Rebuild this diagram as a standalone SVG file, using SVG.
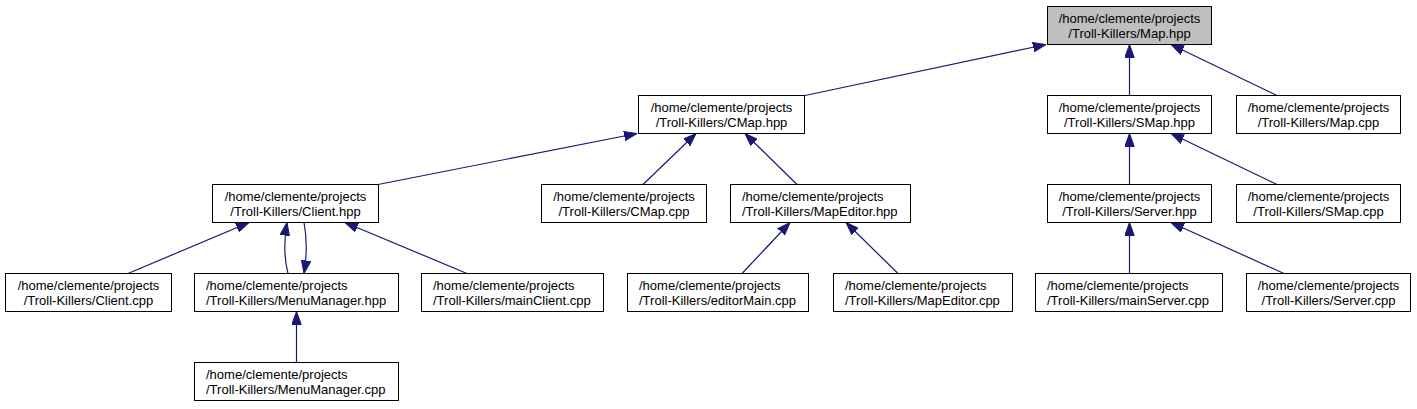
<svg xmlns="http://www.w3.org/2000/svg" width="1417" height="409" viewBox="0 0 1417 409">
<style>
.box{fill:#ffffff;stroke:#000000;stroke-width:1}
.root{fill:#bfbfbf}
.t{font-family:"Liberation Sans",Arial,Helvetica,sans-serif;font-size:13px;fill:#000000}
.c{text-anchor:middle}
.e{fill:none;stroke:#191970;stroke-width:1.2;marker-end:url(#ah)}
</style>
<defs>
<marker id="ah" viewBox="0 -5 13 10" refX="13" refY="0" markerWidth="13" markerHeight="10" markerUnits="userSpaceOnUse" orient="auto">
<path d="M0,-4.7 L13,0 L0,4.7 z" fill="#191970" stroke="#191970" stroke-width="1"/>
</marker>
</defs>
<rect width="1417" height="409" fill="#ffffff"/>
<g id="edges">
<path class="e" d="M805,95.5 L1046,44.5"/>
<path class="e" d="M1129.5,95.5 L1129.5,44.5"/>
<path class="e" d="M1277,95.5 L1171,44.5"/>
<path class="e" d="M378,184.5 L637,133.5"/>
<path class="e" d="M643,184.5 L696,133.5"/>
<path class="e" d="M797,184.5 L745,133.5"/>
<path class="e" d="M1129.5,184.5 L1129.5,133.5"/>
<path class="e" d="M1277,184.5 L1171,133.5"/>
<path class="e" d="M128,273.5 L249,222.5"/>
<path class="e" d="M288,273.5 C284,258 284,240 287,222.5"/>
<path class="e" d="M304,222.5 C307,238 307,255 304,273.5"/>
<path class="e" d="M467,273.5 L345,222.5"/>
<path class="e" d="M296.5,362.5 L296.5,311.5"/>
<path class="e" d="M742,273.5 L790,222.5"/>
<path class="e" d="M898,273.5 L846,222.5"/>
<path class="e" d="M1129.5,273.5 L1129.5,222.5"/>
<path class="e" d="M1284,273.5 L1171,222.5"/>
</g>
<g id="map_hpp"><rect class="box root" x="1047.5" y="6.5" width="164" height="38"/><text class="t c" x="1129.5" y="22.5">/home/clemente/projects</text><text class="t c" x="1129.5" y="37.5">/Troll-Killers/Map.hpp</text></g>
<g id="cmap_hpp"><rect class="box" x="638.5" y="95.5" width="166" height="38"/><text class="t c" x="721.5" y="111.5">/home/clemente/projects</text><text class="t c" x="721.5" y="126.5">/Troll-Killers/CMap.hpp</text></g>
<g id="smap_hpp"><rect class="box" x="1047.5" y="95.5" width="164" height="38"/><text class="t c" x="1129.5" y="111.5">/home/clemente/projects</text><text class="t c" x="1129.5" y="126.5">/Troll-Killers/SMap.hpp</text></g>
<g id="map_cpp"><rect class="box" x="1236.5" y="95.5" width="164" height="38"/><text class="t c" x="1318.5" y="111.5">/home/clemente/projects</text><text class="t c" x="1318.5" y="126.5">/Troll-Killers/Map.cpp</text></g>
<g id="client_hpp"><rect class="box" x="212.5" y="184.5" width="166" height="38"/><text class="t c" x="295.5" y="200.5">/home/clemente/projects</text><text class="t c" x="295.5" y="215.5">/Troll-Killers/Client.hpp</text></g>
<g id="cmap_cpp"><rect class="box" x="541.5" y="184.5" width="165" height="38"/><text class="t c" x="624" y="200.5">/home/clemente/projects</text><text class="t c" x="624" y="215.5">/Troll-Killers/CMap.cpp</text></g>
<g id="mapeditor_hpp"><rect class="box" x="730.5" y="184.5" width="180" height="38"/><text class="t" x="742" y="200.5">/home/clemente/projects</text><text class="t" x="742" y="215.5">/Troll-Killers/MapEditor.hpp</text></g>
<g id="server_hpp"><rect class="box" x="1047.5" y="184.5" width="164" height="38"/><text class="t c" x="1129.5" y="200.5">/home/clemente/projects</text><text class="t c" x="1129.5" y="215.5">/Troll-Killers/Server.hpp</text></g>
<g id="smap_cpp"><rect class="box" x="1236.5" y="184.5" width="164" height="38"/><text class="t c" x="1318.5" y="200.5">/home/clemente/projects</text><text class="t c" x="1318.5" y="215.5">/Troll-Killers/SMap.cpp</text></g>
<g id="client_cpp"><rect class="box" x="5.5" y="273.5" width="166" height="38"/><text class="t c" x="88.5" y="289.5">/home/clemente/projects</text><text class="t c" x="88.5" y="304.5">/Troll-Killers/Client.cpp</text></g>
<g id="menumanager_hpp"><rect class="box" x="194.5" y="273.5" width="204" height="38"/><text class="t" x="206" y="289.5">/home/clemente/projects</text><text class="t" x="206" y="304.5">/Troll-Killers/MenuManager.hpp</text></g>
<g id="mainclient_cpp"><rect class="box" x="421.5" y="273.5" width="182" height="38"/><text class="t" x="433" y="289.5">/home/clemente/projects</text><text class="t" x="433" y="304.5">/Troll-Killers/mainClient.cpp</text></g>
<g id="editormain_cpp"><rect class="box" x="627.5" y="273.5" width="181" height="38"/><text class="t" x="639" y="289.5">/home/clemente/projects</text><text class="t" x="639" y="304.5">/Troll-Killers/editorMain.cpp</text></g>
<g id="mapeditor_cpp"><rect class="box" x="833.5" y="273.5" width="179" height="38"/><text class="t" x="845" y="289.5">/home/clemente/projects</text><text class="t" x="845" y="304.5">/Troll-Killers/MapEditor.cpp</text></g>
<g id="mainserver_cpp"><rect class="box" x="1035.5" y="273.5" width="187" height="38"/><text class="t" x="1047" y="289.5">/home/clemente/projects</text><text class="t" x="1047" y="304.5">/Troll-Killers/mainServer.cpp</text></g>
<g id="server_cpp"><rect class="box" x="1246.5" y="273.5" width="164" height="38"/><text class="t c" x="1328.5" y="289.5">/home/clemente/projects</text><text class="t c" x="1328.5" y="304.5">/Troll-Killers/Server.cpp</text></g>
<g id="menumanager_cpp"><rect class="box" x="194.5" y="362.5" width="204" height="38"/><text class="t" x="206" y="378.5">/home/clemente/projects</text><text class="t" x="206" y="393.5">/Troll-Killers/MenuManager.cpp</text></g>
</svg>
